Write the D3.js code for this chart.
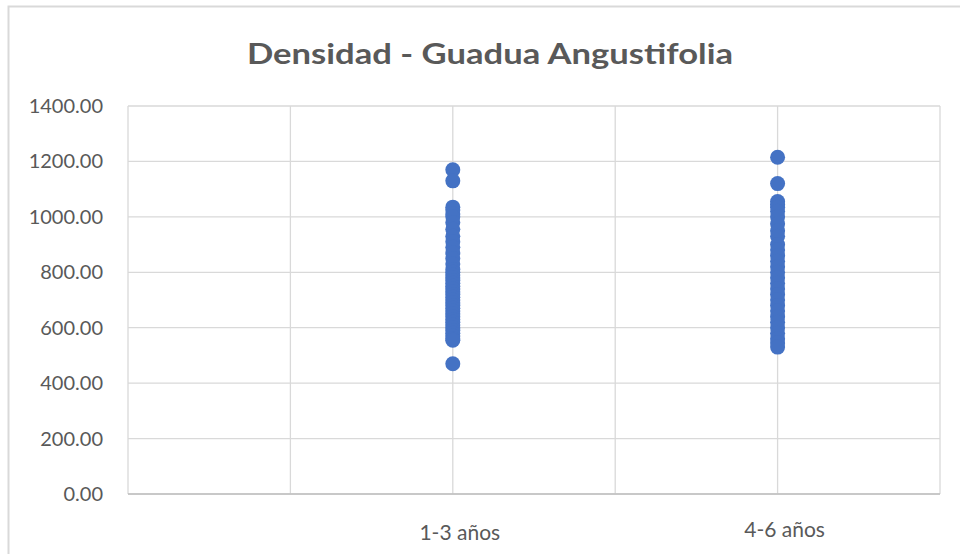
<!DOCTYPE html>
<html lang="es">
<head>
<meta charset="UTF-8">
<title>Densidad - Guadua Angustifolia</title>
<script src="https://d3js.org/d3.v7.min.js"></script>
<style>
  body { margin: 0; background: white; }
  svg { display: block; }
  text { font-family: Lato, "Open Sans", sans-serif; fill: #595959; }
  .grid line { stroke: #d9d9d9; stroke-width: 1.3px; }
  .ylab { font-size: 20px; }
  .xlab { font-size: 21px; }
  .title { font-size: 28px; font-weight: bold; }
</style>
</head>
<body>
<div id="container"></div>
<script>
// data
const categories = ["1-3 años", "4-6 años"];
const categoryX = [2, 4];
const yTicks = [0, 200, 400, 600, 800, 1000, 1200, 1400];
const xTicks = [0, 1, 2, 3, 4, 5];

const densidad13 = [1170, 1130, 1035, 1025, 1010, 1000, 980, 955, 930, 910, 890, 870, 850,
  830, 810, 800, 790, 780, 770, 760, 750, 740, 730, 720, 710, 700, 690, 680, 670,
  660, 650, 640, 630, 620, 610, 600, 590, 580, 570, 560, 555, 470];
const densidad46 = [1215, 1120, 1055, 1045, 1035, 1020, 1000, 975, 950, 930, 900, 880, 860,
  840, 820, 800, 780, 760, 740, 720, 700, 680, 660, 640, 620, 600, 580, 560, 545, 530];

const width = 960, height = 554;
const margins = { top: 106, bottom: 60, left: 128, right: 20 };

const svg = d3.select("#container").append("svg")
  .attr("width", width)
  .attr("height", height);

// chart frame
svg.append("rect")
  .attr("x", 8.5).attr("y", 6.5)
  .attr("width", width + 20).attr("height", height + 20)
  .attr("fill", "white")
  .attr("stroke", "#d9d9d9")
  .attr("stroke-width", 2);

const xScale = d3.scaleLinear().domain([0, 5]).range([margins.left, width - margins.right]);
const yScale = d3.scaleLinear().domain([0, 1400]).range([height - margins.bottom, margins.top]);

// gridlines
const grid = svg.append("g").attr("class", "grid");
grid.selectAll(".hg").data(yTicks).enter().append("line")
  .attr("x1", xScale(0)).attr("x2", xScale(5))
  .attr("y1", d => yScale(d)).attr("y2", d => yScale(d));
grid.selectAll(".vg").data(xTicks).enter().append("line")
  .attr("x1", d => xScale(d)).attr("x2", d => xScale(d))
  .attr("y1", yScale(0)).attr("y2", yScale(1400));

// x axis line
svg.append("line")
  .attr("x1", xScale(0)).attr("x2", xScale(5))
  .attr("y1", yScale(0)).attr("y2", yScale(0))
  .attr("stroke", "#bfbfbf").attr("stroke-width", 1.5);

// y labels
svg.append("g").selectAll("text").data(yTicks).enter().append("text")
  .attr("class", "ylab")
  .attr("x", xScale(0) - 25)
  .attr("y", d => yScale(d))
  .attr("dy", "0.35em")
  .attr("text-anchor", "end")
  .text(d => d3.format(".2f")(d));

// category labels
svg.append("g").selectAll("text").data(categories).enter().append("text")
  .attr("class", "xlab")
  .attr("x", (d, i) => xScale(categoryX[i]) + 7)
  .attr("y", (d, i) => i === 0 ? 540 : 537)
  .attr("text-anchor", "middle")
  .text(d => d);

// points
const series = [
  { x: categoryX[0], values: densidad13 },
  { x: categoryX[1], values: densidad46 }
];
series.forEach(s => {
  svg.append("g").selectAll("circle").data(s.values).enter().append("circle")
    .attr("cx", xScale(s.x))
    .attr("cy", d => yScale(d))
    .attr("r", 7.5)
    .attr("fill", "#4472c4");
});

// title (reference is drawn wider than the font, so stretch to its width)
svg.append("text")
  .attr("class", "title")
  .attr("x", 490)
  .attr("y", 64)
  .attr("text-anchor", "middle")
  .attr("textLength", 486)
  .attr("lengthAdjust", "spacingAndGlyphs")
  .text("Densidad - Guadua Angustifolia");
</script>
</body>
</html>
